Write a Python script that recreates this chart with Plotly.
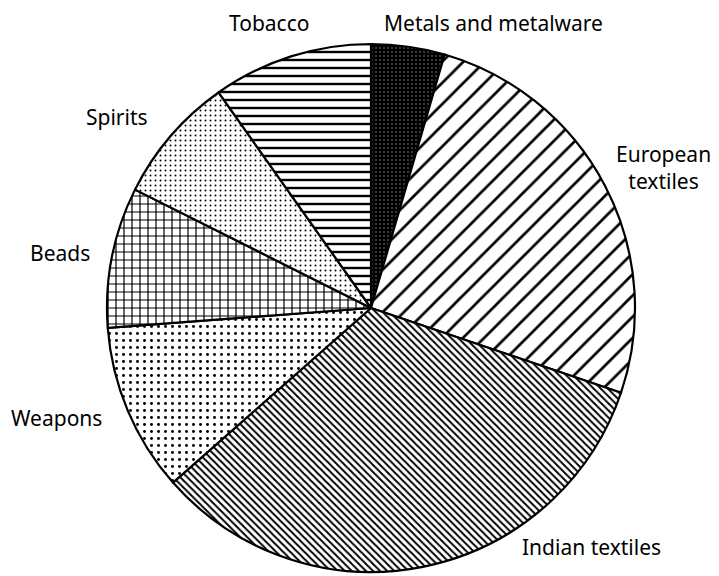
import plotly.graph_objects as go

categories = ["Metals and metalware", "European textiles", "Indian textiles",
              "Weapons", "Beads", "Spirits", "Tobacco"]
values = [4.5, 25.7, 33.3, 10.3, 8.6, 7.8, 9.8]
label_texts = ["Metals and metalware", "European<br>textiles", "Indian textiles",
               "Weapons", "Beads", "Spirits", "Tobacco"]

W, H = 719, 576
OFF = 8  # page body margin
cx, cy, r = 371 - OFF, 308 - OFF, 264

shapes = ["+", "/", "\\", ".", "+", ".", "-"]
sizes = [4, 15, 5, 7, 8, 5, 8]
solid = [0.95, 0.18, 0.4, 0.14, 0.28, 0.12, 0.3]

fig = go.Figure(go.Pie(
    labels=categories, values=values, sort=False, direction="clockwise",
    rotation=0, textinfo="none", hoverinfo="label+percent",
    marker=dict(colors=["white"] * 7,
                line=dict(color="black", width=2.2),
                pattern=dict(shape=shapes, size=sizes, solidity=solid,
                             fgcolor="black", bgcolor="white", fillmode="replace")),
    domain=dict(x=[(cx - r) / W, (cx + r) / W],
                y=[(H - cy - r) / H, (H - cy + r) / H]),
    showlegend=False,
))

# label anchor positions (pixels from top-left of the page)
label_pos = [(493, 23), (663, 167), (591, 547), (56, 418), (60, 253), (117, 117), (269, 23)]
for txt, (x, y) in zip(label_texts, label_pos):
    fig.add_annotation(x=(x - OFF) / W, y=1 - (y - OFF) / H, xref="paper", yref="paper",
                       text=txt, showarrow=False, xanchor="center", yanchor="middle",
                       font=dict(family="Noto Sans", size=21, color="black"))

fig.update_layout(width=W, height=H, margin=dict(l=0, r=0, t=0, b=0),
                  paper_bgcolor="white", plot_bgcolor="white")
fig.write_html("out.html")
